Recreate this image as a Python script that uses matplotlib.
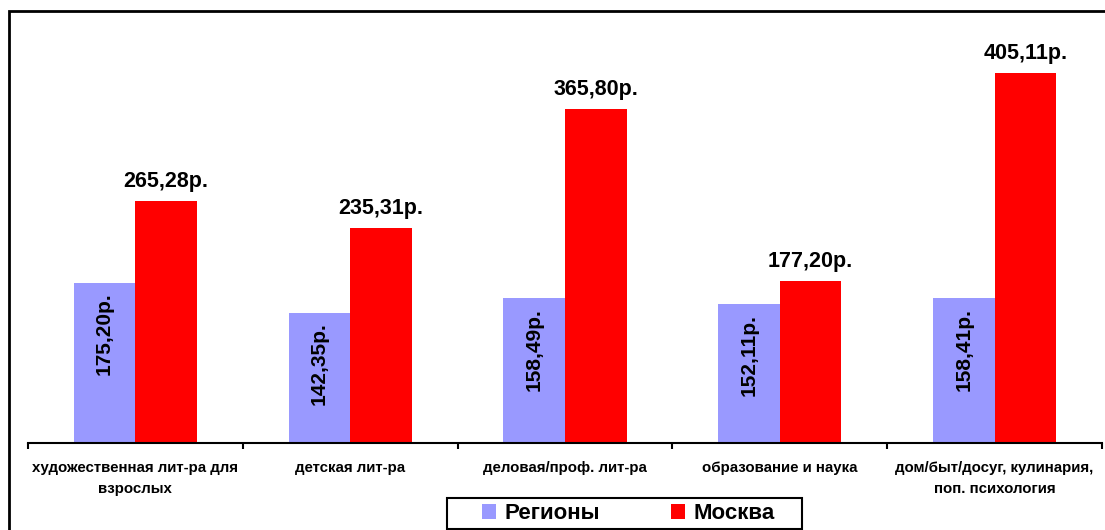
import matplotlib
matplotlib.use("Agg")
import matplotlib.pyplot as plt
from matplotlib.patches import Rectangle, Patch
import numpy as np

categories = ["художественная лит-ра для\nвзрослых", "детская лит-ра",
              "деловая/проф. лит-ра", "образование и наука",
              "дом/быт/досуг, кулинария,\nпоп. психология"]
regions = [175.20, 142.35, 158.49, 152.11, 158.41]
moscow = [265.28, 235.31, 365.80, 177.20, 405.11]
series_names = ["Регионы", "Москва"]

def fmt(v):
    return f"{v:.2f}".replace(".", ",") + "р."

plt.rcParams['font.family'] = ['Liberation Sans', 'DejaVu Sans']
W, H = 1105, 530
fig = plt.figure(figsize=(W / 100, H / 100), dpi=100)
ax = fig.add_axes([28 / W, (H - 443) / H, (1102 - 28) / W, (443 - 32) / H])

x = np.arange(len(categories))
bw = 0.287
c_reg = "#9999FF"
c_mos = "#FF0000"
ax.bar(x - bw / 2, regions, bw, color=c_reg)
ax.bar(x + bw / 2, moscow, bw, color=c_mos)

for xi, v in zip(x, regions):
    ax.annotate(fmt(v), (xi - bw / 2, v), xytext=(0, -7), textcoords="offset points",
                rotation=90, ha="center", va="top", fontsize=15, fontweight="bold")
for xi, v in zip(x, moscow):
    ax.annotate(fmt(v), (xi + bw / 2, v), xytext=(0, 10), textcoords="offset points",
                ha="center", va="baseline", fontsize=15.5, fontweight="bold")

ax.set_xlim(-0.5, len(categories) - 0.5)
ax.set_ylim(0, 450)
for s in ["top", "right", "left"]:
    ax.spines[s].set_visible(False)
ax.spines["bottom"].set_linewidth(1.5)
ax.spines["bottom"].set_color("black")
ax.set_yticks([])
ax.set_xticks(np.arange(-0.5, len(categories)), labels=[""] * (len(categories) + 1))
ax.tick_params(axis="x", which="major", direction="out", length=4, width=1.5)
ax.set_xticks(x, minor=True)
ax.set_xticklabels(categories, minor=True, fontsize=10.8, fontweight="bold",
                   linespacing=1.6)
ax.tick_params(axis="x", which="minor", length=0, pad=13)

handles = [Patch(facecolor=c_reg, edgecolor="none"), Patch(facecolor=c_mos, edgecolor="none")]
leg = fig.legend(handles, series_names, loc="center left",
                 bbox_to_anchor=(482 / W, 1 - 513.5 / H), ncol=2, frameon=False,
                 prop={"weight": "bold", "size": 16}, handlelength=0.65, handleheight=0.65,
                 handletextpad=0.35, columnspacing=3.2, borderpad=0.0, borderaxespad=0)

fig.patches.append(Rectangle((447 / W, 1 - 529 / H), (802 - 447) / W, 31 / H,
                             transform=fig.transFigure, fill=False, edgecolor="black",
                             linewidth=1.5))
fig.patches.append(Rectangle((9 / W, -0.2), 2.0, 1.2 - 11 / H,
                             transform=fig.transFigure, fill=False, edgecolor="black",
                             linewidth=2))

fig.savefig("out.png", dpi=100)
